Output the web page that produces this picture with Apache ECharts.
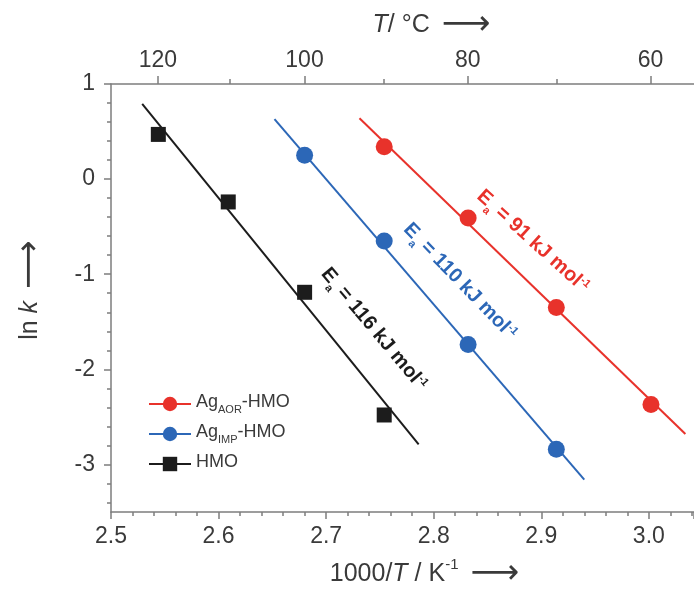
<!DOCTYPE html>
<html><head><meta charset="utf-8">
<script src="https://cdn.jsdelivr.net/npm/echarts@6/dist/echarts.min.js"></script>
<style>html,body{margin:0;padding:0;background:#fff;overflow:hidden}#c{width:694px;height:596px}</style>
</head><body><div id="c"></div>
<script>
// ---- data ----
const hmoX = [2.544, 2.609, 2.680, 2.754];
const hmoY = [0.47, -0.24, -1.19, -2.48];
const impX = [2.680, 2.754, 2.832, 2.914];
const impY = [0.25, -0.65, -1.74, -2.84];
const aorX = [2.754, 2.832, 2.914, 3.002];
const aorY = [0.34, -0.41, -1.35, -2.37];
// fitted Arrhenius lines (end points)
const hmoFitX = [2.529, 2.786];
const hmoFitY = [0.79, -2.79];
const impFitX = [2.652, 2.940];
const impFitY = [0.63, -3.16];
const aorFitX = [2.731, 3.034];
const aorFitY = [0.64, -2.68];
// axes
const xMin = 2.5, xMax = 3.042;
const yMin = -3.5, yMax = 1;
const yMajor = [-3, -2, -1, 0, 1];
const yMinor = [-3.4,-3.2,-2.8,-2.6,-2.4,-2.2,-1.8,-1.6,-1.4,-1.2,-0.8,-0.6,-0.4,-0.2,0.2,0.4,0.6,0.8];
const topMajorT = [120, 100, 80, 60];
const topMinorT = [110, 90, 70];
// annotations
const annTexts = ['91', '110', '116'];
const annX = [2.891, 2.823, 2.743];
const annY = [-0.67, -1.09, -1.59];
const annAngle = [42, 46, 50];

const toInvT = t => 1000 / (t + 273.15);
const topMajorPos = topMajorT.map(toInvT);
const topMinorPos = topMinorT.map(toInvT);

const RED = '#e8322b', BLUE = '#2c67b7', BLACK = '#1c1c1c';
const AX = '#7d7d7d', TXT = '#3a3a3a';
const FF = '"Liberation Sans", Arial, sans-serif';

function zip(a, b) { return a.map((v, i) => [v, b[i]]); }

const chart = echarts.init(document.getElementById('c'), null, {renderer: 'canvas'});

const lineSt = {color: AX, width: 1.5};
const axisCommon = {
  type: 'value', min: xMin, max: xMax,
  splitLine: {show: false}, minorSplitLine: {show: false},
  axisLine: {onZero: false, lineStyle: lineSt},
  axisTick: {lineStyle: lineSt}
};

const nameRich = {
  n: {fontSize: 25, color: TXT, fontFamily: FF},
  i: {fontSize: 25, color: TXT, fontFamily: FF, fontStyle: 'italic'},
  sup: {fontSize: 15, color: TXT, fontFamily: FF, verticalAlign: 'top', padding: [0, 0, 10, 0]},
  a: {fontSize: 34, color: TXT, fontFamily: '"DejaVu Sans"', padding: [0, 0, 0, 12]}
};

const legendMap = {
  'AOR': '{n|Ag}{s|AOR}{n|-HMO}',
  'IMP': '{n|Ag}{s|IMP}{n|-HMO}',
  'HMO': '{n|HMO}'
};

const option = {
  animation: false,
  backgroundColor: '#fff',
  textStyle: {fontFamily: FF},
  grid: {left: 111, right: 0, top: 84, bottom: 73},
  xAxis: [
    Object.assign({}, axisCommon, {
      position: 'bottom', interval: 0.1,
      axisTick: {length: 7, lineStyle: lineSt},
      minorTick: {show: true, splitNumber: 5, length: 4, lineStyle: lineSt},
      axisLabel: {fontSize: 23, color: TXT, margin: 13, showMaxLabel: false, fontFamily: FF,
        formatter: v => (v > 3.01 ? '' : v.toFixed(1))},
      name: '{n|1000/}{i|T}{n| / K}{sup|-1}{a|⟶}',
      nameLocation: 'middle', nameGap: 45,
      nameTextStyle: {rich: nameRich, padding: [0, 0, 0, 44]}
    }),
    Object.assign({}, axisCommon, {
      position: 'top',
      axisTick: {length: 8, customValues: topMajorPos, lineStyle: lineSt},
      axisLabel: {fontSize: 23, color: TXT, margin: 12, fontFamily: FF, customValues: topMajorPos,
        formatter: v => {
          let bi = 0, bd = 1e9;
          topMajorPos.forEach((p, i) => { const d = Math.abs(p - v); if (d < bd) { bd = d; bi = i; } });
          return String(topMajorT[bi]);
        }},
      name: '{i|T}{n|/ °C}{a|⟶}',
      nameLocation: 'middle', nameGap: 42,
      nameTextStyle: {rich: nameRich, padding: [0, 0, 0, 58]}
    }),
    Object.assign({}, axisCommon, {
      position: 'top',
      axisLine: {show: false, onZero: false},
      axisTick: {length: 5, customValues: topMinorPos, lineStyle: lineSt},
      axisLabel: {show: false}
    })
  ],
  yAxis: [
    {
      type: 'value', min: yMin, max: yMax, position: 'left',
      splitLine: {show: false},
      axisLine: {show: true, onZero: false, lineStyle: lineSt},
      axisTick: {length: 7, customValues: yMajor, lineStyle: lineSt},
      axisLabel: {fontSize: 23, color: TXT, margin: 16, fontFamily: FF, customValues: yMajor,
        formatter: v => String(Math.round(v))},
      name: '{n|ln }{i|k}{a|⟶}',
      nameLocation: 'middle', nameGap: 64, nameRotate: 90,
      nameTextStyle: {rich: nameRich, padding: [0, 0, 0, 16]}
    },
    {
      type: 'value', min: yMin, max: yMax, position: 'left',
      splitLine: {show: false},
      axisLine: {show: false, onZero: false},
      axisTick: {length: 4, customValues: yMinor, lineStyle: lineSt},
      axisLabel: {show: false}
    }
  ],
  legend: {
    orient: 'vertical', left: 143, top: 388,
    itemWidth: 42, itemHeight: 18, itemGap: 8,
    data: ['AOR', 'IMP', 'HMO'],
    formatter: name => legendMap[name],
    textStyle: {
      color: TXT, fontFamily: FF,
      rich: {
        n: {fontSize: 18, color: TXT, fontFamily: FF, verticalAlign: 'bottom', padding: [0, 0, 4, 0]},
        s: {fontSize: 11, color: TXT, fontFamily: FF, verticalAlign: 'bottom'}
      }
    }
  },
  series: [
    {name: 'AOR', type: 'line', data: zip(aorFitX, aorFitY), symbol: 'circle', symbolSize: 17, showSymbol: false,
      lineStyle: {color: RED, width: 2}, itemStyle: {color: RED}, silent: true, z: 2},
    {name: 'IMP', type: 'line', data: zip(impFitX, impFitY), symbol: 'circle', symbolSize: 17, showSymbol: false,
      lineStyle: {color: BLUE, width: 2}, itemStyle: {color: BLUE}, silent: true, z: 2},
    {name: 'HMO', type: 'line', data: zip(hmoFitX, hmoFitY), symbol: 'rect', symbolSize: 15, showSymbol: false,
      lineStyle: {color: BLACK, width: 2}, itemStyle: {color: BLACK}, silent: true, z: 2},
    {name: 'AOR pts', type: 'scatter', data: zip(aorX, aorY), symbol: 'circle', symbolSize: 17,
      itemStyle: {color: RED, opacity: 1}, z: 3},
    {name: 'IMP pts', type: 'scatter', data: zip(impX, impY), symbol: 'circle', symbolSize: 17,
      itemStyle: {color: BLUE, opacity: 1}, z: 3},
    {name: 'HMO pts', type: 'scatter', data: zip(hmoX, hmoY), symbol: 'rect', symbolSize: 15,
      itemStyle: {color: BLACK, opacity: 1}, z: 3}
  ]
};
chart.setOption(option);

const annColors = [RED, BLUE, BLACK];
const graphics = annTexts.map((t, i) => {
  const p = chart.convertToPixel({xAxisIndex: 0, yAxisIndex: 0}, [annX[i], annY[i]]);
  const c = annColors[i];
  const big = {fontSize: 20, fontWeight: 'bold', fill: c, color: c, fontFamily: FF, verticalAlign: 'bottom', padding: [0, 0, 4, 0]};
  return {
    type: 'text', x: p[0], y: p[1], rotation: -annAngle[i] * Math.PI / 180, z: 10,
    style: {
      text: '{e|E}{s|a}{n| = ' + t + ' kJ mol}{p|-1}',
      align: 'center', verticalAlign: 'middle',
      rich: {
        e: big,
        s: {fontSize: 11, fontWeight: 'bold', fill: c, color: c, fontFamily: FF, verticalAlign: 'bottom'},
        n: big,
        p: {fontSize: 11, fontWeight: 'bold', fill: c, color: c, fontFamily: FF, verticalAlign: 'top'}
      }
    }
  };
});
chart.setOption({graphic: graphics});
</script>
</body></html>
